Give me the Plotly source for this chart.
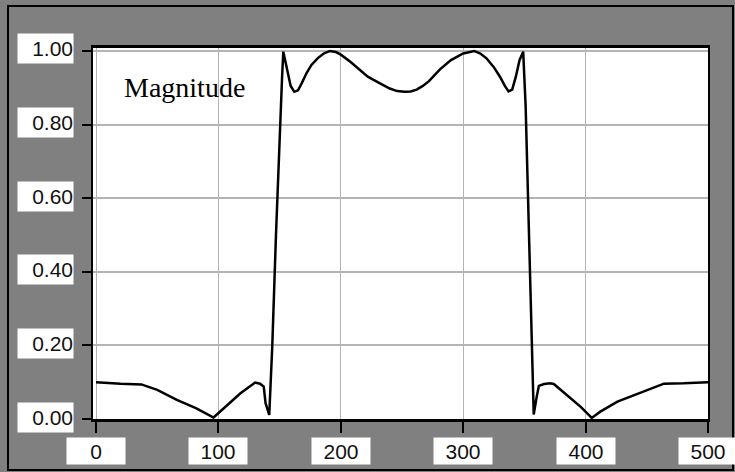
import plotly.graph_objects as go

# Magnitude response samples (frequency index, magnitude)
freq = [0, 10, 20, 37, 50, 66, 82, 96, 104, 118, 130, 134, 137, 138.5, 141.5,
        144, 147, 150, 152, 153, 156, 159, 162, 165, 168, 172, 176, 181, 186,
        191, 196, 200, 208, 215, 222, 232, 240, 246, 252, 257, 262, 267, 272,
        281, 290, 300, 305, 309, 314, 319, 325, 330, 334, 337, 340, 343, 346,
        349, 351, 353, 355, 357.6, 360, 361.8, 366, 371, 374, 385, 396, 405,
        412, 426, 440, 453, 464, 480, 497, 500]
magnitude = [0.100, 0.097, 0.096, 0.094, 0.079, 0.052, 0.029, 0.004, 0.029, 0.070,
             0.099, 0.096, 0.088, 0.043, 0.011,
             0.20, 0.50, 0.78, 0.93, 0.998, 0.95, 0.905, 0.889, 0.893, 0.912,
             0.940, 0.962, 0.980, 0.993, 1.000, 0.997, 0.990, 0.970, 0.950,
             0.930, 0.912, 0.898, 0.891, 0.889, 0.890, 0.895, 0.905, 0.918,
             0.950, 0.975, 0.993, 0.998, 1.000, 0.993, 0.980, 0.956, 0.930,
             0.905, 0.890, 0.895, 0.930, 0.975, 0.998, 0.85, 0.60, 0.30, 0.012,
             0.060, 0.090, 0.095, 0.097, 0.095, 0.065, 0.033, 0.003,
             0.020, 0.047, 0.065, 0.083, 0.096, 0.097, 0.100, 0.100]

x_ticks = [0, 100, 200, 300, 400, 500]
x_labels = ["0", "100", "200", "300", "400", "500"]
y_ticks = [0.0, 0.2, 0.4, 0.6, 0.8, 1.0]
y_labels = ["0.00", "0.20", "0.40", "0.60", "0.80", "1.00"]

W, H = 735, 472
ML, MR, MT, MB = 93, 27, 48, 53
PW, PH = W - ML - MR, H - MT - MB


def px_to_paper_x(px):
    return (px - ML) / PW


def px_to_paper_y(py):
    return (H - MB - py) / PH


GRAY = "#808080"
GRID = "#b4b4b4"
LABEL_FONT = dict(family="Liberation Sans, Arial, sans-serif", size=21, color="#111111")

fig = go.Figure()
fig.add_trace(go.Scatter(
    x=freq, y=magnitude, mode="lines",
    line=dict(color="black", width=2.5),
    hoverinfo="skip", showlegend=False,
))

annotations = []
for v, t in zip(y_ticks, y_labels):
    annotations.append(dict(
        x=0, xref="paper", xanchor="right", xshift=-19,
        y=v, yref="y", yanchor="middle", yshift=2,
        text=t, showarrow=False, font=LABEL_FONT,
        bgcolor="white", width=55, height=29, borderpad=0, align="right",
    ))
for v, t in zip(x_ticks, x_labels):
    annotations.append(dict(
        x=v, xref="x", xanchor="center",
        y=0, yref="paper", yanchor="top", yshift=-18,
        text=t, showarrow=False, font=LABEL_FONT,
        bgcolor="white", width=58, height=26, borderpad=0, align="center",
    ))
annotations.append(dict(
    x=21, xref="x", xanchor="left",
    y=0.9, yref="y", yanchor="middle",
    text="Magnitude", showarrow=False,
    font=dict(family="Liberation Serif, Times New Roman, serif", size=28, color="black"),
))

fig.update_layout(
    width=W, height=H,
    margin=dict(l=ML, r=MR, t=MT, b=MB),
    paper_bgcolor=GRAY, plot_bgcolor="white",
    annotations=annotations,
    shapes=[dict(
        type="rect", xref="paper", yref="paper", layer="above",
        x0=px_to_paper_x(8), x1=px_to_paper_x(733),
        y0=px_to_paper_y(470), y1=px_to_paper_y(6),
        line=dict(color="black", width=2), fillcolor="rgba(0,0,0,0)",
    )],
    xaxis=dict(
        range=[-2.5, 500], tickvals=x_ticks, showticklabels=False,
        showgrid=True, gridcolor=GRID, gridwidth=1,
        showline=True, linecolor="black", linewidth=3, mirror=True,
        ticks="outside", ticklen=11, tickwidth=2, tickcolor="black",
        zeroline=False, fixedrange=True,
    ),
    yaxis=dict(
        range=[0, 1.008], tickvals=y_ticks, showticklabels=False,
        showgrid=True, gridcolor=GRID, gridwidth=1.5,
        showline=True, linecolor="black", linewidth=2, mirror=True,
        ticks="outside", ticklen=9, tickwidth=2, tickcolor="black",
        zeroline=False, fixedrange=True,
    ),
)

fig.write_html("out.html")
